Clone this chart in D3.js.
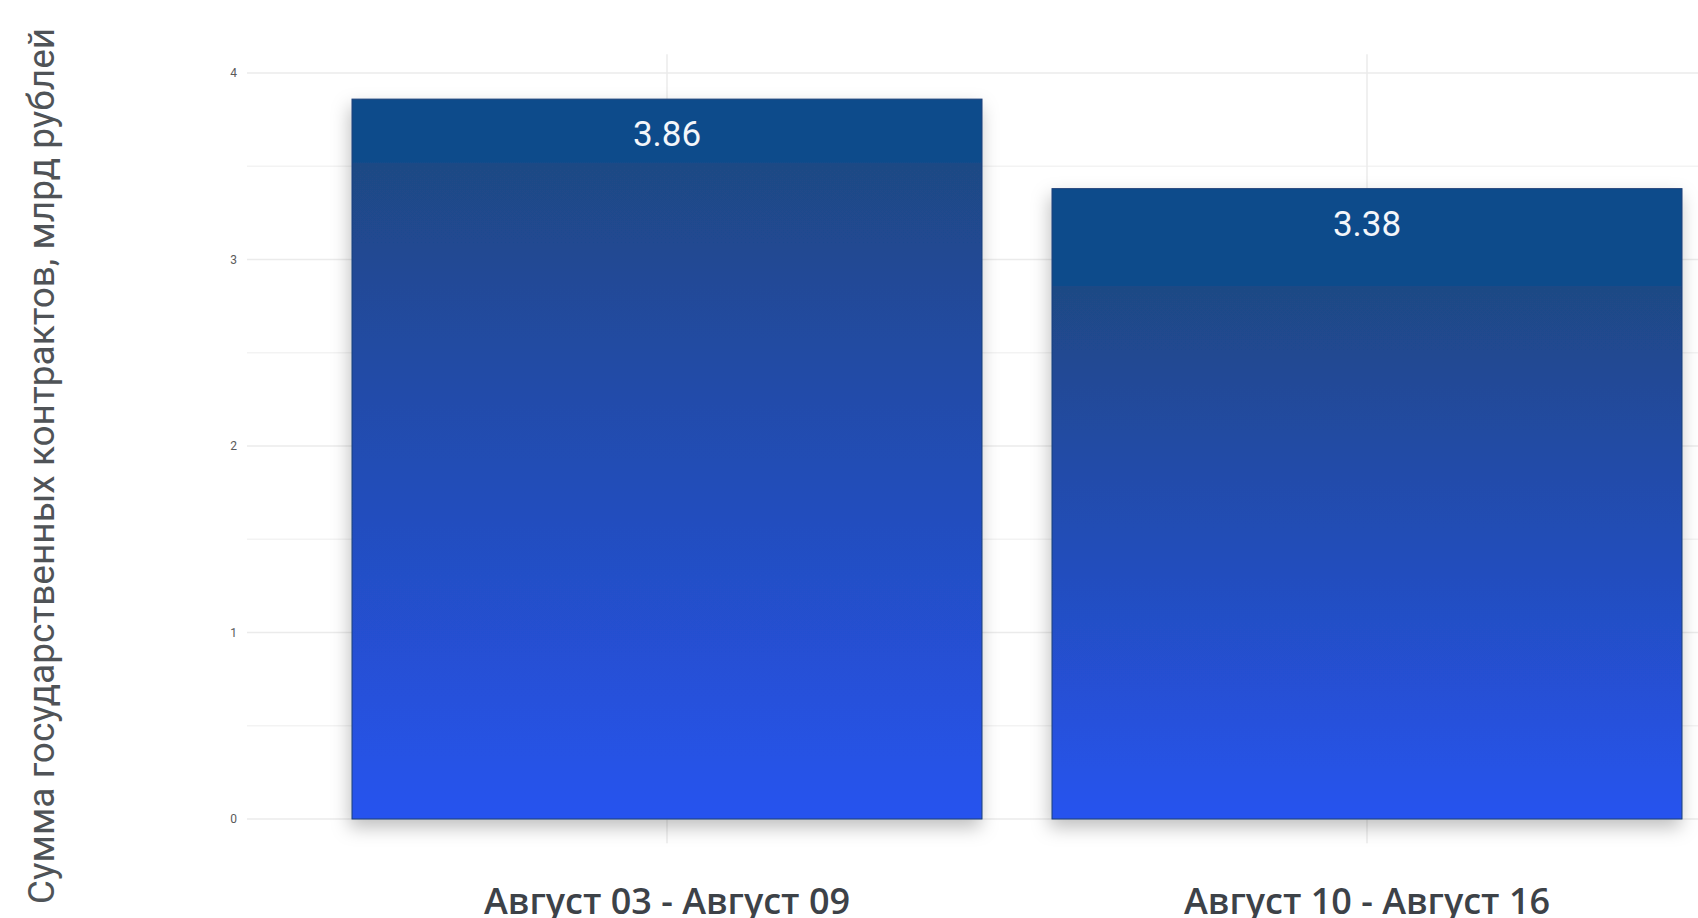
<!DOCTYPE html>
<html>
<head>
<meta charset="utf-8">
<script src="https://cdn.jsdelivr.net/npm/d3@7"></script>
<style>
  body { margin: 0; background: #fff; }
  svg { display: block; }
</style>
</head>
<body>
<svg></svg>
<script>
const width = 1698;
const height = 918;

// data
const categories = ["Август 03 - Август 09", "Август 10 - Август 16"];
const values = [3.86, 3.38];
const yTicks = [0, 1, 2, 3, 4];
const yTitle = "Сумма государственных контрактов, млрд рублей";

// where the flat dark cap of each bar ends (fraction of bar height)
const capStops = [0.088, 0.154];

const svg = d3.select("svg")
  .attr("width", width)
  .attr("height", height)
  .style("font-family", "Roboto, 'Noto Sans', sans-serif");

const xScale = d3.scaleBand()
  .domain(categories)
  .range([282, 1752])
  .paddingInner(0.1)
  .paddingOuter(0.1);

const yScale = d3.scaleLinear()
  .domain([0, 4])
  .range([819, 73]);

const defs = svg.append("defs");

const shadow = defs.append("filter")
  .attr("id", "shadow")
  .attr("x", "-10%").attr("y", "-10%")
  .attr("width", "120%").attr("height", "125%");
shadow.append("feDropShadow")
  .attr("dx", -2).attr("dy", 8)
  .attr("stdDeviation", 9)
  .attr("flood-color", "#000")
  .attr("flood-opacity", 0.25);

categories.forEach((c, i) => {
  const g = defs.append("linearGradient")
    .attr("id", "grad" + i)
    .attr("x1", 0).attr("y1", 0).attr("x2", 0).attr("y2", 1);
  g.append("stop").attr("offset", 0).attr("stop-color", "#114c8b");
  g.append("stop").attr("offset", capStops[i]).attr("stop-color", "#114c8b");
  g.append("stop").attr("offset", capStops[i] + 0.002).attr("stop-color", "#1f4884");
  g.append("stop").attr("offset", 1).attr("stop-color", "#2753ef");
});

const panelLeft = 247;

// minor grid (half steps)
const minor = d3.range(0.5, 4, 1);
svg.append("g").selectAll("line")
  .data(minor).enter().append("line")
  .attr("x1", panelLeft).attr("x2", width)
  .attr("y1", d => yScale(d)).attr("y2", d => yScale(d))
  .attr("stroke", "#f3f3f3")
  .attr("stroke-width", 1.5);

// major grid
svg.append("g").selectAll("line")
  .data(yTicks).enter().append("line")
  .attr("x1", panelLeft).attr("x2", width)
  .attr("y1", d => yScale(d)).attr("y2", d => yScale(d))
  .attr("stroke", "#ebebeb")
  .attr("stroke-width", 1.5);

// vertical grid at category centres
svg.append("g").selectAll("line")
  .data(categories).enter().append("line")
  .attr("x1", d => xScale(d) + xScale.bandwidth() / 2)
  .attr("x2", d => xScale(d) + xScale.bandwidth() / 2)
  .attr("y1", yScale(4.1)).attr("y2", yScale(-0.13))
  .attr("stroke", "#ebebeb")
  .attr("stroke-width", 1.5);

// y tick labels
svg.append("g").selectAll("text")
  .data(yTicks).enter().append("text")
  .attr("x", 237)
  .attr("y", d => yScale(d))
  .attr("dy", "0.35em")
  .attr("text-anchor", "end")
  .attr("font-size", 12)
  .attr("fill", "#5a5a5a")
  .text(d => d);

// bars
svg.append("g").selectAll("rect")
  .data(values).enter().append("rect")
  .attr("x", (d, i) => xScale(categories[i]))
  .attr("y", d => yScale(d))
  .attr("width", xScale.bandwidth())
  .attr("height", d => yScale(0) - yScale(d))
  .attr("fill", (d, i) => `url(#grad${i})`)
  .attr("stroke", "#1d3f78")
  .attr("stroke-width", 1)
  .attr("filter", "url(#shadow)");

// value labels
svg.append("g").selectAll("text")
  .data(values).enter().append("text")
  .attr("x", (d, i) => xScale(categories[i]) + xScale.bandwidth() / 2)
  .attr("y", d => yScale(d) + 47)
  .attr("text-anchor", "middle")
  .attr("font-size", 35)
  .attr("fill", "#f4f6fa")
  .text(d => d.toFixed(2));

// x labels
svg.append("g").selectAll("text")
  .data(categories).enter().append("text")
  .attr("x", d => xScale(d) + xScale.bandwidth() / 2)
  .attr("y", 914)
  .attr("text-anchor", "middle")
  .style("font-family", "'Open Sans', sans-serif")
  .attr("font-size", 36)
  .attr("font-weight", 600)
  .attr("fill", "#3d4248")
  .text(d => d);

// y title
svg.append("text")
  .attr("transform", `translate(54, 466) rotate(-90)`)
  .attr("text-anchor", "middle")
  .attr("font-size", 37)
  .attr("fill", "#4f5357")
  .text(yTitle);
</script>
</body>
</html>
